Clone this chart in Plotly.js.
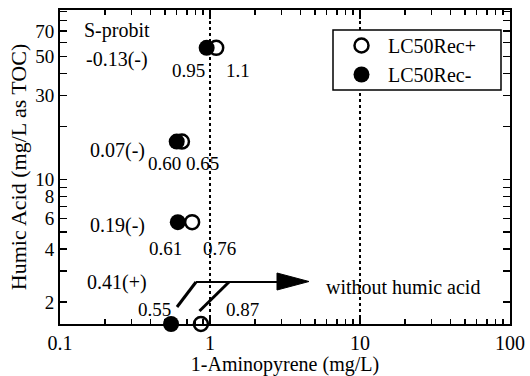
<!DOCTYPE html>
<html>
<head>
<meta charset="utf-8">
<script src="https://cdn.plot.ly/plotly-3.0.1.min.js"></script>
<style>html,body{margin:0;padding:0;background:#fff;}#chart{width:530px;height:376px;}</style>
</head>
<body>
<div id="chart"></div>
<script>
// Data
const humicAcid = [56, 16.4, 5.7, 1.5];          // mg/L as TOC (last row: without humic acid)
const lc50RecPlus = [1.1, 0.65, 0.76, 0.87];      // mg/L
const lc50RecMinus = [0.95, 0.60, 0.61, 0.55];    // mg/L
const probitSlopes = ['-0.13(-)', '0.07(-)', '0.19(-)', '0.41(+)'];
const plusLabels = ['1.1', '0.65', '0.76', '0.87'];
const minusLabels = ['0.95', '0.60', '0.61', '0.55'];
const xTickVals = [0.1, 1, 10, 100];
const xTickText = ['0.1', '1', '10', '100'];
const xMinorVals = [0.2,0.3,0.4,0.5,0.6,0.7,0.8,0.9,2,3,4,5,6,7,8,9,20,30,40,50,60,70,80,90];
const yTickVals = [2, 4, 6, 8, 10, 30, 50, 70];
const yTickText = ['2', '4', '6', '8', '10', '30', '50', '70'];
const yMinorVals = [3, 5, 7, 9, 20, 40, 60, 80, 90];

const FONT = 'Liberation Serif, Times New Roman, serif';

const traces = [
  {
    x: lc50RecPlus, y: humicAcid, type: 'scatter', mode: 'markers', name: 'LC50Rec+',
    cliponaxis: false,
    marker: {symbol: 'circle', size: 14, color: '#fff', line: {color: '#000', width: 2.5}}
  },
  {
    x: lc50RecMinus, y: humicAcid, type: 'scatter', mode: 'markers', name: 'LC50Rec-',
    cliponaxis: false,
    marker: {symbol: 'circle', size: 16, color: '#000', line: {color: '#000', width: 0}}
  }
];

// pixel -> paper helpers for decoration placement
const L = 60, R = 510, T = 10, B = 324;
const px = X => (X - L) / (R - L);
const py = Y => (B - Y) / (B - T);

const ann = (text, X, Y, size) => ({
  text: text, xref: 'paper', yref: 'paper', x: px(X), y: py(Y),
  xanchor: 'center', yanchor: 'middle', showarrow: false,
  font: {family: FONT, size: size || 19, color: '#000'}
});

const slopeY = [60, 150, 225, 282];
const valY = [71, 163, 248, 309];
const minusX = [188, 164, 165, 154];
const plusX = [238, 202, 219, 242];

const annotations = [ann('S-probit', 117, 31, 20)];
probitSlopes.forEach((s, i) => annotations.push(ann(s, 117, slopeY[i], 20)));
minusLabels.forEach((s, i) => annotations.push(ann(s, minusX[i], valY[i], 19)));
plusLabels.forEach((s, i) => annotations.push(ann(s, plusX[i], valY[i], 19)));
annotations.push(ann('without humic acid', 403, 287, 20));

const shapes = [
  {type: 'line', xref: 'x', yref: 'paper', x0: 1, x1: 1, y0: 0, y1: 1, layer: 'below',
   line: {color: '#000', width: 2, dash: 'dot'}},
  {type: 'line', xref: 'x', yref: 'paper', x0: 10, x1: 10, y0: 0, y1: 1, layer: 'below',
   line: {color: '#000', width: 2, dash: 'dot'}},
  {type: 'line', xref: 'paper', yref: 'paper', x0: px(177), y0: py(307), x1: px(196), y1: py(282),
   line: {color: '#000', width: 3}},
  {type: 'line', xref: 'paper', yref: 'paper', x0: px(199.5), y0: py(311), x1: px(229), y1: py(282),
   line: {color: '#000', width: 3}},
  {type: 'line', xref: 'paper', yref: 'paper', x0: px(196), y0: py(282), x1: px(280), y1: py(282),
   line: {color: '#000', width: 2}},
  {type: 'path', xref: 'paper', yref: 'paper',
   path: 'M' + px(277) + ',' + py(273) + ' L' + px(309) + ',' + py(281.5) + ' L' + px(277) + ',' + py(290) + ' Z',
   fillcolor: '#000', line: {color: '#000', width: 1}},
  // legend frame
  {type: 'rect', xref: 'paper', yref: 'paper', x0: px(333), x1: px(501), y0: py(30), y1: py(90),
   fillcolor: '#fff', line: {color: '#000', width: 1.5}}
];

const layout = {
  width: 530, height: 376,
  margin: {l: L, r: 530 - R, t: T, b: 376 - B},
  paper_bgcolor: '#fff', plot_bgcolor: '#fff',
  font: {family: FONT, size: 20, color: '#000'},
  showlegend: true,
  legend: {
    x: px(335), y: py(60), xanchor: 'left', yanchor: 'middle',
    bgcolor: 'rgba(0,0,0,0)', borderwidth: 0, itemwidth: 43,
    font: {family: FONT, size: 20, color: '#000'}
  },
  xaxis: {
    type: 'log', range: [-1, 2],
    showline: true, linecolor: '#000', linewidth: 2, mirror: 'allticks',
    showgrid: false, zeroline: false,
    ticks: 'inside', ticklen: 9, tickwidth: 1.5, tickcolor: '#000',
    tickmode: 'array', tickvals: xTickVals, ticktext: xTickText,
    minor: {tickmode: 'array', tickvals: xMinorVals, ticks: 'inside', ticklen: 5, tickwidth: 1.5, tickcolor: '#000', showgrid: false},
    tickfont: {family: FONT, size: 20, color: '#000'},
    title: {text: '1-Aminopyrene (mg/L)', font: {family: FONT, size: 20, color: '#000'}, standoff: 6}
  },
  yaxis: {
    type: 'log', range: [Math.log10(1.5), Math.log10(92)],
    showline: true, linecolor: '#000', linewidth: 2, mirror: 'allticks',
    showgrid: false, zeroline: false,
    ticks: 'inside', ticklen: 7, tickwidth: 1.5, tickcolor: '#000',
    tickmode: 'array', tickvals: yTickVals, ticktext: yTickText,
    minor: {tickmode: 'array', tickvals: yMinorVals, ticks: 'inside', ticklen: 7, tickwidth: 1.5, tickcolor: '#000', showgrid: false},
    tickfont: {family: FONT, size: 19, color: '#000'},
    title: {text: 'Humic Acid (mg/L as TOC)', font: {family: FONT, size: 22, color: '#000'}, standoff: 3}
  },
  annotations: annotations,
  shapes: shapes
};

Plotly.newPlot('chart', traces, layout, {displayModeBar: false, staticPlot: true});
</script>
</body>
</html>
